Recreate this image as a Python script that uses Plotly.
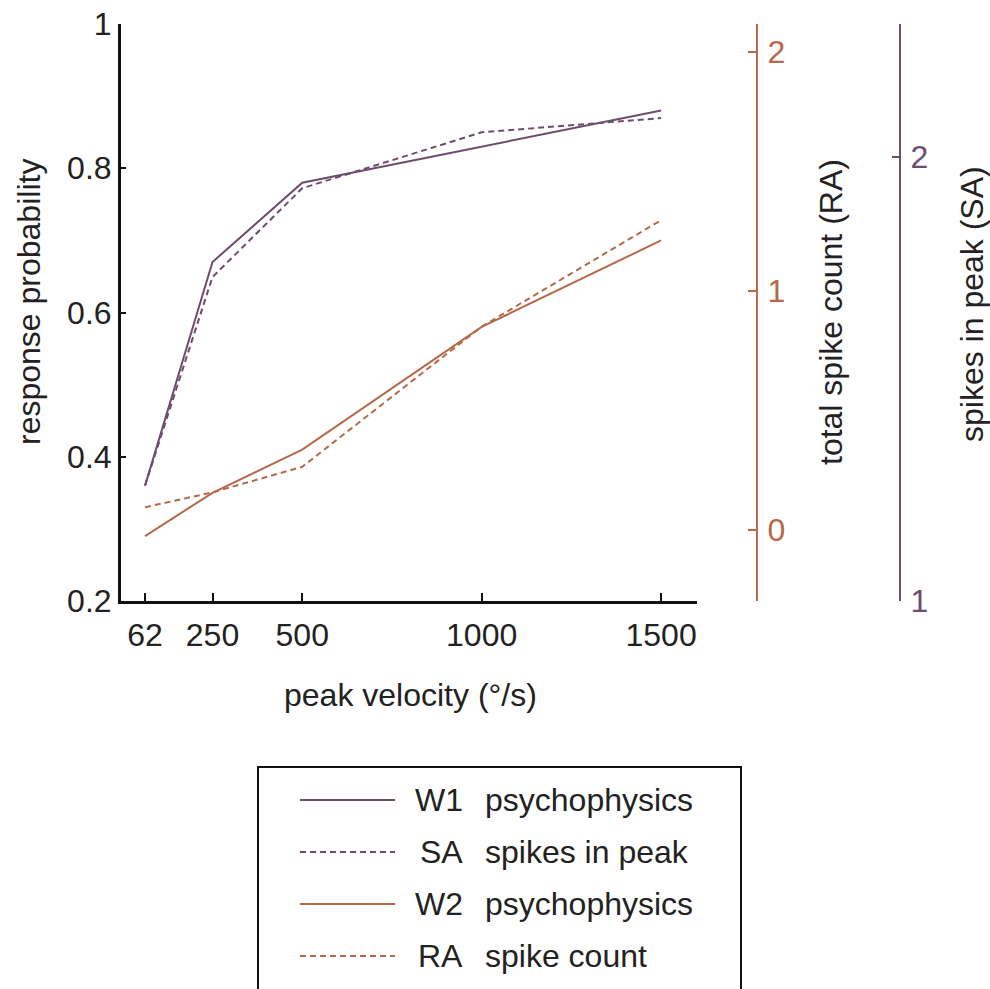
import plotly.graph_objects as go

# ---- data ----
velocity = [62, 250, 500, 1000, 1500]
w1_psychophysics = [0.36, 0.67, 0.78, 0.83, 0.88]
sa_spikes_in_peak = [1.26, 1.73, 1.93, 2.056, 2.088]
w2_psychophysics = [0.29, 0.35, 0.41, 0.58, 0.70]
ra_spike_count = [0.095, 0.157, 0.264, 0.85, 1.295]

x_ticks = [62, 250, 500, 1000, 1500]
left_ticks = [0.2, 0.4, 0.6, 0.8, 1.0]
left_tick_text = ["0.2", "0.4", "0.6", "0.8", "1"]
ra_ticks = [0, 1, 2]
sa_ticks = [1, 2]

legend_codes = ["W1", "SA", "W2", "RA"]
legend_desc = ["psychophysics", "spikes in peak", "psychophysics", "spike count"]

PURPLE = "#6E4D6C"
ORANGE = "#B5694A"
TXT = "#222222"
W, H = 990, 989
FONT = "Liberation Sans"


def px(x):
    return x / W


def py(y):
    return 1 - y / H


fig = go.Figure()
fig.add_trace(go.Scatter(x=velocity, y=w1_psychophysics, mode="lines",
                         line=dict(color=PURPLE, width=2), yaxis="y"))
fig.add_trace(go.Scatter(x=velocity, y=sa_spikes_in_peak, mode="lines",
                         line=dict(color=PURPLE, width=2, dash="6px,4px"), yaxis="y3"))
fig.add_trace(go.Scatter(x=velocity, y=w2_psychophysics, mode="lines",
                         line=dict(color=ORANGE, width=2), yaxis="y"))
fig.add_trace(go.Scatter(x=velocity, y=ra_spike_count, mode="lines",
                         line=dict(color=ORANGE, width=2, dash="6px,4px"), yaxis="y2"))

ydom = [py(601), py(24)]

fig.update_layout(
    width=W, height=H,
    margin=dict(l=0, r=0, t=0, b=0, pad=0, autoexpand=False),
    paper_bgcolor="white", plot_bgcolor="white",
    font=dict(family=FONT, size=32, color=TXT),
    showlegend=False,
    xaxis=dict(domain=[px(121), px(697)], range=[-5, 1600],
               tickvals=x_ticks, ticks="inside", ticklen=8, tickwidth=2,
               tickcolor="#111111", showline=True, linecolor="#111111", linewidth=3,
               showgrid=False, zeroline=False, anchor="y", automargin=False,
               tickfont=dict(size=32, color=TXT), ticklabelstandoff=4),
    yaxis=dict(domain=ydom, range=[0.2, 1.0], tickvals=left_ticks,
               ticktext=left_tick_text,
               ticks="inside", ticklen=5, tickwidth=2, tickcolor="#111111",
               showline=True, linecolor="#111111", linewidth=3,
               showgrid=False, zeroline=False, anchor="x", automargin=False,
               tickfont=dict(size=32, color=TXT), ticklabelstandoff=0),
    yaxis2=dict(domain=ydom, range=[-0.297, 2.115], tickvals=ra_ticks,
                overlaying="y", side="right", anchor="free", position=px(757),
                ticks="inside", ticklen=8, tickwidth=2, tickcolor=ORANGE,
                showline=True, linecolor=ORANGE, linewidth=2,
                showgrid=False, zeroline=False, automargin=False,
                tickfont=dict(size=32, color=ORANGE), ticklabelstandoff=3),
    yaxis3=dict(domain=ydom, range=[1.0, 2.30], tickvals=sa_ticks,
                overlaying="y", side="right", anchor="free", position=px(900),
                ticks="inside", ticklen=7, tickwidth=2, tickcolor=PURPLE,
                showline=True, linecolor=PURPLE, linewidth=2,
                showgrid=False, zeroline=False, automargin=False,
                tickfont=dict(size=32, color=PURPLE), ticklabelstandoff=3),
)

annotations = [
    dict(text="response probability", x=px(29), y=py(302), textangle=-90,
         font=dict(size=32, color=TXT)),
    dict(text="peak velocity (°/s)", x=px(410), y=py(695),
         font=dict(size=32, color=TXT)),
    dict(text="total spike count (RA)", x=px(831), y=py(312), textangle=-90,
         font=dict(size=32, color=TXT)),
    dict(text="spikes in peak (SA)", x=px(972), y=py(304), textangle=-90,
         font=dict(size=32, color=TXT)),
]
for a in annotations:
    a.update(xref="paper", yref="paper", showarrow=False, xanchor="center", yanchor="middle")

shapes = [dict(type="rect", xref="paper", yref="paper", x0=px(258), x1=px(741),
               y0=py(767), y1=-0.2, line=dict(color="#111111", width=2),
               fillcolor="rgba(0,0,0,0)")]

row_y = [800, 852, 904, 956]
row_colors = [PURPLE, PURPLE, ORANGE, ORANGE]
row_dash = ["solid", "6px,4px", "solid", "6px,4px"]
for i in range(4):
    shapes.append(dict(type="line", xref="paper", yref="paper",
                       x0=px(300), x1=px(395), y0=py(row_y[i]), y1=py(row_y[i]),
                       line=dict(color=row_colors[i], width=2, dash=row_dash[i])))
    annotations.append(dict(text=legend_codes[i], x=px(465), y=py(row_y[i]),
                            xref="paper", yref="paper", showarrow=False,
                            xanchor="right", yanchor="middle",
                            font=dict(size=32, color=TXT)))
    annotations.append(dict(text=legend_desc[i], x=px(483), y=py(row_y[i]),
                            xref="paper", yref="paper", showarrow=False,
                            xanchor="left", yanchor="middle",
                            font=dict(size=32, color=TXT)))

fig.update_layout(annotations=annotations, shapes=shapes)
fig.write_html("out.html")
